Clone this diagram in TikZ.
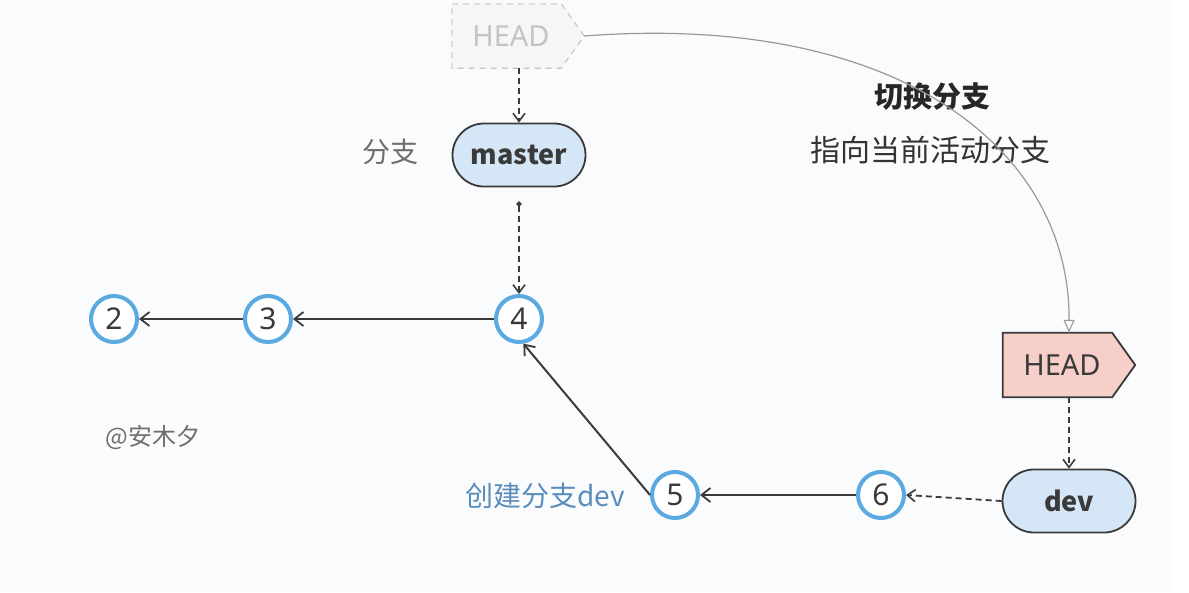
\documentclass[tikz,border=0pt]{standalone}
\usepackage{fontspec}
\setmainfont{Noto Sans}
\newfontfamily\cjk{Noto Sans CJK SC}
\usetikzlibrary{arrows.meta,shapes.misc,backgrounds}
\definecolor{bgc}{HTML}{F9FBFD}
\definecolor{ringc}{HTML}{5AA9E0}
\definecolor{linec}{HTML}{3A3A3A}
\definecolor{branchc}{HTML}{D5E6F6}
\definecolor{headc}{HTML}{F6CFC9}
\definecolor{ghostc}{HTML}{F6F6F6}
\definecolor{ghostl}{HTML}{C4C4C4}
\definecolor{labelc}{HTML}{5B8DBA}
\definecolor{grayt}{HTML}{6E6E6E}
\begin{document}
\begin{tikzpicture}[x=1pt,y=-1pt,
  commit/.style={circle,draw=ringc,line width=4pt,fill=white,minimum size=46pt,inner sep=0pt,font=\fontsize{30}{30}\selectfont,text=linec},
  branchbox/.style={rounded rectangle,draw=linec,line width=1.8pt,fill=branchc,minimum width=133pt,minimum height=63pt,inner sep=0pt,font=\cjk\fontsize{27}{27}\selectfont\bfseries,text=linec},
  headbox/.style={rectangle,minimum width=132pt,minimum height=64pt,inner sep=0pt,font=\fontsize{29}{29}\selectfont,text=linec},
  headshape/.style={draw=linec,line width=1.8pt,fill=headc,line join=miter},
  ghostshape/.style={draw=ghostl,line width=1.1pt,fill=ghostc,dash pattern=on 6pt off 5pt},
  parent/.style={-{Straight Barb[length=9pt,width=14pt,line width=1.8pt]},draw=linec,line width=2pt},
  refptr/.style={-{Straight Barb[length=8pt,width=12pt,line width=1.6pt]},draw=linec,line width=1.8pt,dash pattern=on 6pt off 4pt},
]
\useasboundingbox (0,0) rectangle (1189,592);

\node[headbox,text=ghostl] (ghost) at (518,36) {HEAD\hspace*{14pt}};
\node[branchbox] (master) at (519,155) {master};
\node[font=\cjk\fontsize{28}{28}\selectfont,text=grayt] (lblbranch) at (390,152) {分支};

\node[commit] (n2) at (114,319) {2};
\node[commit] (n3) at (268,319) {3};
\node[commit] (n4) at (519,319) {4};
\node[commit] (n5) at (675,495) {5};
\node[commit] (n6) at (881,495) {6};

\node[headbox] (head) at (1069,365) {HEAD\hspace*{14pt}};
\node[branchbox] (dev) at (1069,501) {dev};

\begin{scope}[on background layer]
\fill[bgc] (0,0) rectangle (1189,592);
\fill[white] (1172,0) rectangle (1189,592);
\path[ghostshape] (ghost.north west) -- ([xshift=-23pt]ghost.north east) -- (ghost.east)
  -- ([xshift=-23pt]ghost.south east) -- (ghost.south west) -- cycle;
\path[headshape] (head.north west) -- ([xshift=-23pt]head.north east) -- (head.east)
  -- ([xshift=-23pt]head.south east) -- (head.south west) -- cycle;
\end{scope}

\node[font=\cjk\fontsize{29}{29}\selectfont\bfseries,text=black!85] (t1) at (932,97) {切换分支};
\node[font=\cjk\fontsize{30}{30}\selectfont,text=black!80] (t2) at (930,150) {指向当前活动分支};
\node[font=\cjk\fontsize{28}{28}\selectfont,text=labelc] (t3) at (545,496) {创建分支dev};
\node[font=\cjk\fontsize{24}{24}\selectfont,text=grayt] (t4) at (153,437) {@安木夕};

\draw[parent] (n3) -- (n2);
\draw[parent] (n4) -- (n3);
\draw[parent] (n6) -- (n5);
\draw[parent] (n5.180) -- (n4.-80);

\draw[refptr] (ghost.south -| master.north) -- (master.north);
\draw[refptr,{Circle[length=5pt]}-{Straight Barb[length=8pt,width=12pt,line width=1.6pt]}] ([yshift=-14pt]master.south) -- (n4.north);
\draw[refptr] (head.south -| dev.north) -- (dev.north);
\draw[refptr] (dev.west) -- (n6.east);

\draw[draw=black!40,line width=1.2pt,-{Triangle[open,length=13pt,width=11pt,line width=1.1pt]}]
  (ghost.east) .. controls (900,12) and (1070,150) .. (head.north);
\end{tikzpicture}
\end{document}
